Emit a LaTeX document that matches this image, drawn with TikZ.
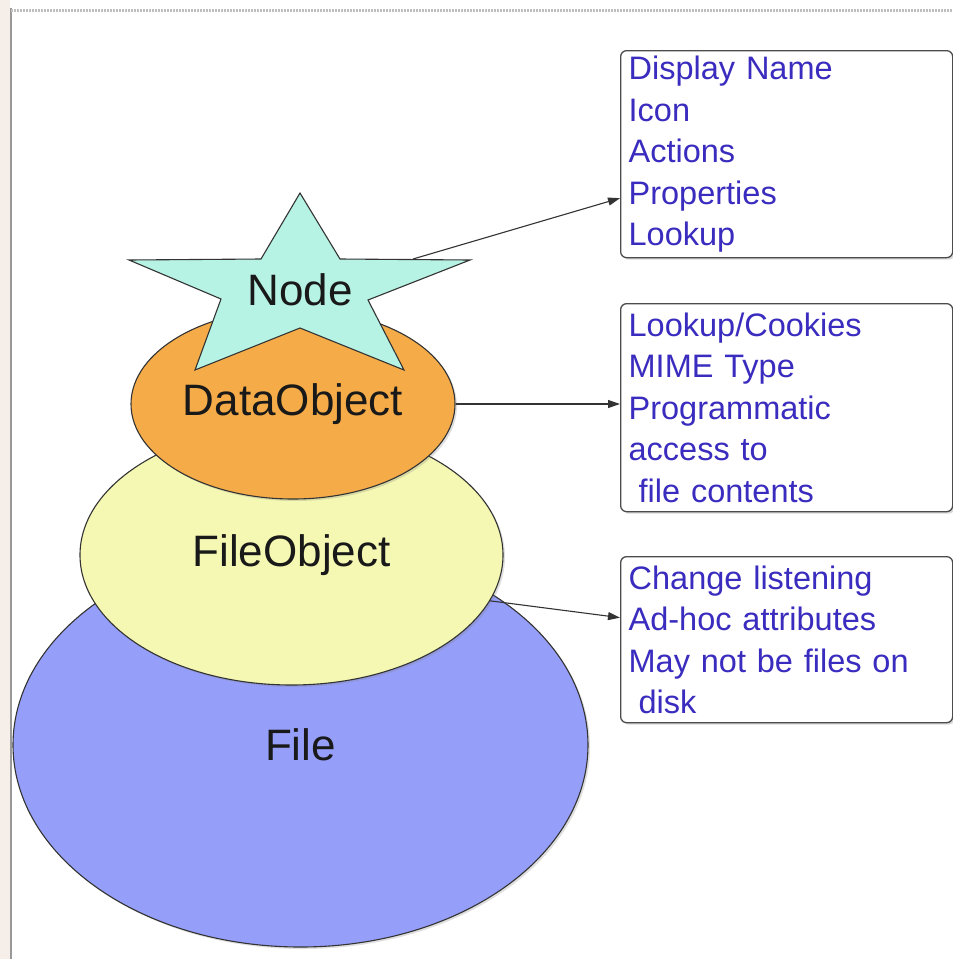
\documentclass[tikz,border=0pt]{standalone}
\usepackage{fontspec}
\setmainfont{Liberation Sans}
\usetikzlibrary{shapes.geometric,arrows.meta,shadows}
\definecolor{fileblue}{RGB}{149,158,248}
\definecolor{fobjyellow}{RGB}{245,248,178}
\definecolor{dobjorange}{RGB}{245,172,72}
\definecolor{starcyan}{RGB}{182,243,228}
\definecolor{txtblue}{RGB}{58,44,190}
\definecolor{stripbg}{RGB}{246,238,233}
\begin{document}
\begin{tikzpicture}[x=1pt,y=-1pt,
  layer/.style={ellipse, draw=black!80, line width=1.1pt, inner sep=0pt,
    font=\fontsize{44}{44}\selectfont, text=black!90,
    drop shadow={shadow xshift=2pt,shadow yshift=-2pt,opacity=0.25}},
  infobox/.style={draw=black!70, line width=1.3pt, rounded corners=6pt, fill=white,
    text=txtblue, font=\fontsize{32.5}{41.5}\selectfont, align=left,
    anchor=north west, inner xsep=8pt, inner ysep=0pt,
    text width=316pt, minimum width=332pt,
    drop shadow={shadow xshift=2pt,shadow yshift=-2pt,opacity=0.3}},
  link/.style={draw=black!80, line width=1.1pt, -{Triangle[length=12pt,width=8pt]}}]
\useasboundingbox (0,0) rectangle (953,959);
\fill[white] (0,0) rectangle (953,959);

% window frame
\fill[stripbg] (0,0) rectangle (10,959);
\draw[black!40, line width=1.5pt] (11,8) -- (11,959);
\draw[black!25, line width=3pt, dash pattern=on 1.5pt off 1.5pt] (11,10) -- (953,10);

% stacked layers, bottom first
\node[layer, fill=fileblue, minimum width=575pt, minimum height=404pt] (file) at (300.5,745) {File};
\node[layer, fill=fobjyellow, minimum width=423pt, minimum height=260pt] (fobj) at (291.5,555) {FileObject};
\node[layer, fill=dobjorange, minimum width=324pt, minimum height=190pt] (dobj) at (293,404) {DataObject};

% the Node star on top
\draw[fill=starcyan, draw=black!80, line width=1.1pt]
  (300,193) -- (261,259) -- (129,260) -- (221,299) -- (195,370) -- (300,328)
  -- (404,370) -- (368,300) -- (470,260) -- (340,259) -- cycle;
\node[font=\fontsize{44}{44}\selectfont, text=black!90] (nodelbl) at (300,290) {Node};
\coordinate (startip) at (413,259);

% information boxes
\node[infobox, minimum height=207pt] (b1) at (620,50)
  {Display Name\\Icon\\Actions\\Properties\\Lookup};
\node[infobox, minimum height=208pt] (b2) at (620,303)
  {Lookup/Cookies\\MIME Type\\Programmatic\\access to\\\hspace*{10pt}file contents};
\node[infobox, minimum height=166pt] (b3) at (620,556)
  {Change listening\\Ad-hoc attributes\\May not be files on\\\hspace*{10pt}disk};

% connectors
\coordinate (b1in) at ([yshift=-44pt]b1.west);
\coordinate (b3in) at ([yshift=22pt]b3.west);
\draw[link] (startip) -- (b1in);
\draw[link] (dobj.east) -- (dobj.east -| b2.west);
\draw[link] (fobj.-13.5) -- (b3in);
\end{tikzpicture}
\end{document}
